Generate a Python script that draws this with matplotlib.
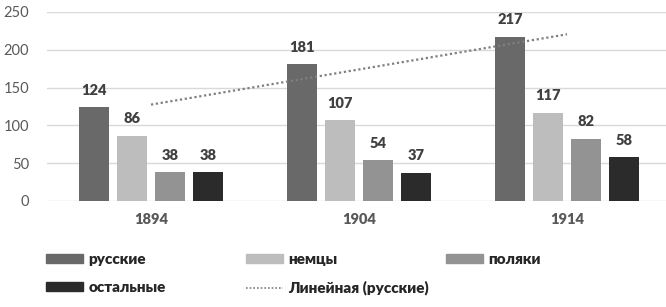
import matplotlib
matplotlib.use("Agg")
import matplotlib.pyplot as plt
import numpy as np
from matplotlib.patches import Patch
from matplotlib.lines import Line2D

plt.rcParams['font.family'] = ['Lato', 'DejaVu Sans']

years = ['1894', '1904', '1914']
series_names = ['русские', 'немцы', 'поляки', 'остальные']
russians = [124, 181, 217]
germans = [86, 107, 117]
poles = [38, 54, 82]
others = [38, 37, 58]
trend_label = 'Линейная (русские)'
colors = ['#696969', '#bdbdbd', '#939393', '#2b2b2b']

W, H = 666, 307
fig = plt.figure(figsize=(W / 100, H / 100), dpi=100)
ax_left, ax_right = 47, 671
ax_bottom, ax_top = 201, 12
ax = fig.add_axes([ax_left / W, 1 - ax_bottom / H,
                   (ax_right - ax_left) / W, (ax_bottom - ax_top) / H])

x = np.arange(len(years))
step = 0.183
width = 0.144
data = [russians, germans, poles, others]
for i, (vals, c) in enumerate(zip(data, colors)):
    pos = x + (i - 1.5) * step
    ax.bar(pos, vals, width=width, color=c, zorder=3)
    for p, v in zip(pos, vals):
        ax.text(p, v + 14, str(v), ha='center', va='bottom', fontsize=10.5,
                fontweight='heavy', color='#404040')

# linear trend of russians
coef = np.polyfit(x, russians, 1)
tx = np.array([x[0], x[-1]])
ax.plot(tx, np.polyval(coef, tx), linestyle=(0, (1, 1.2)), color='#7f7f7f',
        linewidth=1.6, zorder=4)

ax.set_xlim(-0.5, 2.5)
ax.set_ylim(0, 250)
ax.set_yticks([0, 50, 100, 150, 200, 250])
ax.set_xticks(x)
ax.set_xticklabels(years, fontweight='heavy', fontsize=10.5, color='#595959')
ax.tick_params(axis='y', labelsize=10.5, colors='#595959', length=0, pad=13)
ax.tick_params(axis='x', length=0, pad=9)
ax.grid(axis='y', color='#d9d9d9', linewidth=1, zorder=0)
for s in ax.spines.values():
    s.set_visible(False)

patches = [Patch(color=c) for c in colors]
trend_handle = Line2D([0], [0], linestyle=(0, (1, 1.2)), color='#7f7f7f',
                      linewidth=1.2)
columns = [
    ([patches[0], patches[3]], [series_names[0], series_names[3]], 46),
    ([patches[1], trend_handle], [series_names[1], trend_label], 246),
    ([patches[2]], [series_names[2]], 446),
]
for hs, ls, xpx in columns:
    fig.legend(hs, ls, loc='upper left',
               bbox_to_anchor=(xpx / W, 1 - 253 / H),
               borderaxespad=0, borderpad=0, frameon=False,
               prop={'weight': 'heavy', 'size': 11}, handlelength=2.42,
               handleheight=0.52, handletextpad=0.35,
               labelspacing=0.95, labelcolor='#262626')

fig.savefig('out.png', dpi=100)
